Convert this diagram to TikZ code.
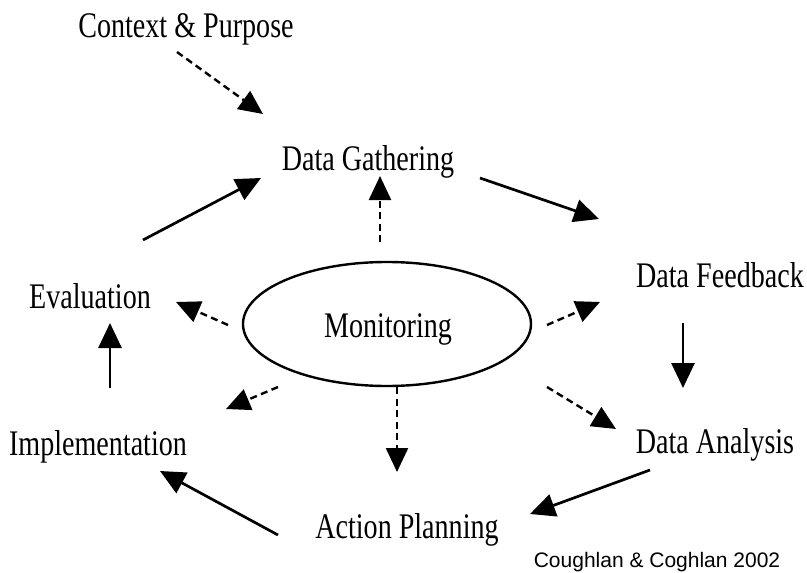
\documentclass[tikz,border=0pt]{standalone}
\usepackage{fontspec}
\setmainfont{Liberation Serif}
\newfontfamily\condserif[FakeStretch=0.78]{Liberation Serif}
\newfontfamily\creditfont{Liberation Sans}
\usetikzlibrary{arrows.meta}
\begin{document}
\begin{tikzpicture}[x=1pt,y=-1pt,
  lbl/.style={inner sep=0pt, anchor=base, font=\condserif\fontsize{36}{42}\selectfont},
  solidarrow/.style={line width=2.7pt, -{Triangle[length=25pt,width=23pt]}},
  dasharrow/.style={line width=2.4pt, dash pattern=on 7pt off 4.5pt, -{Triangle[length=24pt,width=22pt]}}]
\useasboundingbox (0,0) rectangle (807,573);
\fill[white] (0,0) rectangle (807,573);
% labels
\node[lbl] (ctx) at (186,37) {Context \& Purpose};
\node[lbl] (dg) at (368,170) {Data Gathering};
\node[lbl] (df) at (720,287) {Data Feedback};
\node[lbl] (da) at (715,453) {Data Analysis};
\node[lbl] (ap) at (407,538) {Action Planning};
\node[lbl] (impl) at (98,455) {Implementation};
\node[lbl] (eval) at (90,308) {Evaluation};
\draw[line width=2.4pt] (387,324) ellipse [x radius=144, y radius=62];
\node[lbl] (mon) at (388,337) {Monitoring};
\node[inner sep=0pt, anchor=base, font=\creditfont\fontsize{21}{25}\selectfont] (credit) at (657,567) {Coughlan \& Coghlan 2002};
% connector end points
\coordinate (ctxS) at (177,52);  \coordinate (dgW) at (263,114);
\coordinate (dgE) at (480,178);  \coordinate (dfN) at (599,219);
\coordinate (dfS) at (683,323);  \coordinate (daN) at (683,388);
\coordinate (daW) at (650,470);  \coordinate (apE) at (530,514);
\coordinate (apW) at (278,535);  \coordinate (implE) at (160,471);
\coordinate (implN) at (110,388); \coordinate (evalS) at (110,323);
\coordinate (evalN) at (143,240); \coordinate (dgSW) at (261,178);
\coordinate (monN) at (380,242); \coordinate (dgS) at (380,176);
\coordinate (monNE) at (547,325); \coordinate (dfW) at (600,302);
\coordinate (monSE) at (547,387); \coordinate (daNW) at (616,429);
\coordinate (monS) at (397,387); \coordinate (apN) at (397,472);
\coordinate (monSW) at (278,387); \coordinate (implNE) at (226,409);
\coordinate (monW) at (228,325); \coordinate (evalE) at (176,302);
% solid cycle
\draw[solidarrow] (dgE) -- (dfN);
\draw[solidarrow] (dfS) -- (daN);
\draw[solidarrow] (daW) -- (apE);
\draw[solidarrow] (apW) -- (implE);
\draw[solidarrow] (implN) -- (evalS);
\draw[solidarrow] (evalN) -- (dgSW);
% dashed
\draw[dasharrow] (ctxS) -- (dgW);
\draw[dasharrow] (monN) -- (dgS);
\draw[dasharrow] (monNE) -- (dfW);
\draw[dasharrow] (monSE) -- (daNW);
\draw[dasharrow] (monS) -- (apN);
\draw[dasharrow] (monSW) -- (implNE);
\draw[dasharrow] (monW) -- (evalE);
\end{tikzpicture}
\end{document}
